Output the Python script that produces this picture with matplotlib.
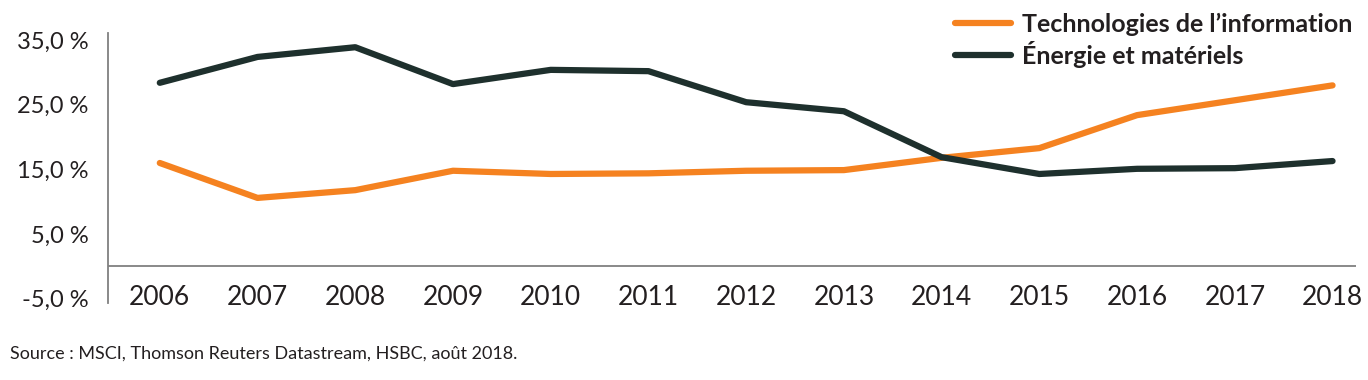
import matplotlib
matplotlib.use('Agg')
import matplotlib.pyplot as plt

plt.rcParams['font.family'] = ['Lato', 'DejaVu Sans']

# données (%)
years = [2006, 2007, 2008, 2009, 2010, 2011, 2012, 2013, 2014, 2015, 2016, 2017, 2018]
tech = [16.0, 10.6, 11.8, 14.8, 14.3, 14.4, 14.8, 14.9, 16.8, 18.3, 23.4, 25.7, 28.0]
energie = [28.4, 32.4, 33.9, 28.2, 30.4, 30.2, 25.4, 24.0, 16.9, 14.3, 15.1, 15.2, 16.3]
yticks = [-5, 5, 15, 25, 35]
ytick_labels = ['-5,0 %', '5,0 %', '15,0 %', '25,0 %', '35,0 %']

ORANGE = '#F58220'
VERT = '#1E302D'
TXT = '#231F20'

fig = plt.figure(figsize=(13.68, 3.8), dpi=100)
ax = fig.add_axes([108 / 1368, 1 - 303 / 380, (1356 - 108) / 1368, (303 - 33) / 380])

ax.plot(years, tech, color=ORANGE, lw=4.5, solid_capstyle='round', solid_joinstyle='round',
        label="Technologies de l\u2019information")
ax.plot(years, energie, color=VERT, lw=4.5, solid_capstyle='round', solid_joinstyle='round',
        label='\u00c9nergie et mat\u00e9riels')

ax.set_xlim(2005.47, 2018.24)
ax.set_ylim(-5.65, 36.1)
ax.axhline(0, color='#808080', lw=1.3, zorder=0)

for s in ['top', 'right', 'bottom']:
    ax.spines[s].set_visible(False)
ax.spines['left'].set_color('#808080')
ax.spines['left'].set_linewidth(1.3)

ax.set_yticks(yticks)
ax.set_yticklabels(ytick_labels)
ax.set_xticks(years)
ax.set_xticklabels([str(y) for y in years])
ax.tick_params(axis='y', length=0, pad=14, labelsize=17, labelcolor=TXT)
ax.tick_params(axis='x', length=0, pad=-13, labelsize=19, labelcolor=TXT)

leg = ax.legend(loc='upper left', bbox_to_anchor=(942 / 1368, 1.0), bbox_transform=fig.transFigure,
                frameon=False, handlelength=2.25, handletextpad=0.45, labelspacing=0.2,
                prop={'size': 18, 'weight': 'bold'}, borderaxespad=0.1)
for t in leg.get_texts():
    t.set_color(TXT)

fig.text(10 / 1368, 1 - 354 / 380, 'Source : MSCI, Thomson Reuters Datastream, HSBC, ao\u00fbt 2018.',
         fontsize=13, color=TXT, va='center', ha='left')

plt.savefig('out.png', dpi=100)
plt.close()
